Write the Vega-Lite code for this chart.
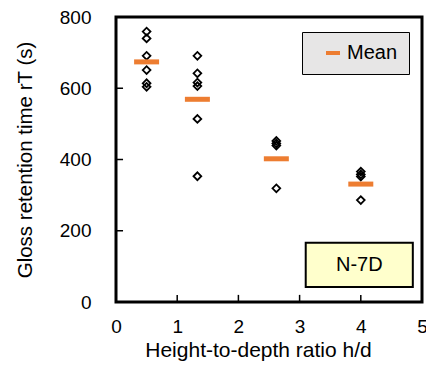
{
  "$schema": "https://vega.github.io/schema/vega-lite/v6.json",
  "width": 306,
  "height": 285,
  "autosize": "none",
  "padding": {"left": 116, "top": 17, "right": 4, "bottom": 72},
  "background": "white",
  "config": {
    "view": {"stroke": "black", "strokeWidth": 3},
    "font": "Liberation Sans",
    "axis": {
      "domain": false,
      "grid": false,
      "ticks": false,
      "tickSize": 0,
      "labelFontSize": 19,
      "labelColor": "black",
      "titleFontSize": 20.5,
      "titleFontWeight": "normal",
      "titleColor": "black",
      "labelFont": "Liberation Sans",
      "titleFont": "Liberation Sans"
    }
  },
  "datasets": {
    "points": [
      {"ratio": 0.5, "time": 759}, {"ratio": 0.5, "time": 740}, {"ratio": 0.5, "time": 691},
      {"ratio": 0.5, "time": 651}, {"ratio": 0.5, "time": 614}, {"ratio": 0.5, "time": 604},
      {"ratio": 1.33, "time": 691}, {"ratio": 1.33, "time": 642}, {"ratio": 1.33, "time": 616},
      {"ratio": 1.33, "time": 606}, {"ratio": 1.33, "time": 514}, {"ratio": 1.33, "time": 353},
      {"ratio": 2.62, "time": 452}, {"ratio": 2.62, "time": 445}, {"ratio": 2.62, "time": 439},
      {"ratio": 2.62, "time": 319},
      {"ratio": 4.0, "time": 366}, {"ratio": 4.0, "time": 358}, {"ratio": 4.0, "time": 352},
      {"ratio": 4.0, "time": 286}
    ],
    "means": [
      {"ratio": 0.5, "time": 674, "series": "Mean"},
      {"ratio": 1.33, "time": 569, "series": "Mean"},
      {"ratio": 2.62, "time": 402, "series": "Mean"},
      {"ratio": 4.0, "time": 331, "series": "Mean"}
    ],
    "label": [
      {"x1": 3.1, "x2": 4.85, "y1": 42, "y2": 166, "xc": 3.975, "yc": 104, "text": "N-7D"}
    ],
    "xticks": [{"tick": 1}, {"tick": 2}, {"tick": 3}, {"tick": 4}],
    "yticks": [{"tick": 200}, {"tick": 400}, {"tick": 600}]
  },
  "layer": [
    {
      "data": {"name": "label"},
      "mark": {"type": "rect", "fill": "#FFFFCC", "stroke": "black", "strokeWidth": 2},
      "encoding": {
        "x": {"field": "x1", "type": "quantitative", "scale": {"domain": [0, 5], "nice": false}},
        "x2": {"field": "x2"},
        "y": {"field": "y1", "type": "quantitative", "scale": {"domain": [0, 800], "nice": false}},
        "y2": {"field": "y2"}
      }
    },
    {
      "data": {"name": "label"},
      "mark": {"type": "text", "fontSize": 20, "font": "Liberation Sans", "color": "black"},
      "encoding": {
        "x": {"field": "xc", "type": "quantitative"},
        "y": {"field": "yc", "type": "quantitative"},
        "text": {"field": "text"}
      }
    },
    {
      "data": {"name": "xticks"},
      "mark": {"type": "rule", "stroke": "black", "strokeWidth": 1.5},
      "encoding": {
        "x": {"field": "tick", "type": "quantitative"},
        "y": {"datum": 0, "type": "quantitative"},
        "y2": {"datum": 20}
      }
    },
    {
      "data": {"name": "yticks"},
      "mark": {"type": "rule", "stroke": "black", "strokeWidth": 1.5},
      "encoding": {
        "y": {"field": "tick", "type": "quantitative"},
        "x": {"datum": 0, "type": "quantitative"},
        "x2": {"datum": 0.115}
      }
    },
    {
      "data": {"name": "points"},
      "mark": {"type": "point", "shape": "diamond", "size": 60, "stroke": "black", "strokeWidth": 1.8, "filled": false, "opacity": 1},
      "encoding": {
        "x": {
          "field": "ratio", "type": "quantitative",
          "scale": {"domain": [0, 5], "nice": false},
          "axis": {"values": [0, 1, 2, 3, 4, 5], "format": "d", "title": "Height-to-depth ratio h/d", "titleFontSize": 21, "titleX": 142, "labelPadding": 15, "titlePadding": 3, "labelFlush": false}
        },
        "y": {
          "field": "time", "type": "quantitative",
          "scale": {"domain": [0, 800], "nice": false},
          "axis": {"values": [0, 200, 400, 600, 800], "format": "d", "title": "Gloss retention time rT (s)", "labelPadding": 25, "titlePadding": 24, "labelFlush": false}
        }
      }
    },
    {
      "data": {"name": "means"},
      "mark": {"type": "tick", "orient": "horizontal", "size": 25, "thickness": 5, "opacity": 1, "color": "#ED7D31"},
      "encoding": {
        "x": {"field": "ratio", "type": "quantitative"},
        "y": {"field": "time", "type": "quantitative"},
        "color": {
          "field": "series", "type": "nominal",
          "scale": {"domain": ["Mean"], "range": ["#ED7D31"]},
          "legend": {
            "title": null,
            "orient": "none",
            "legendX": 186,
            "legendY": 15,
            "fillColor": "#E7E6E6",
            "strokeColor": "black",
            "padding": 11,
            "symbolType": "stroke",
            "symbolSize": 196,
            "symbolStrokeWidth": 4,
            "symbolStrokeColor": "#ED7D31",
            "symbolOpacity": 1,
            "symbolOffset": 10,
            "labelOffset": 4,
            "labelFontSize": 20,
            "labelFont": "Liberation Sans",
            "labelColor": "black"
          }
        }
      }
    }
  ]
}
